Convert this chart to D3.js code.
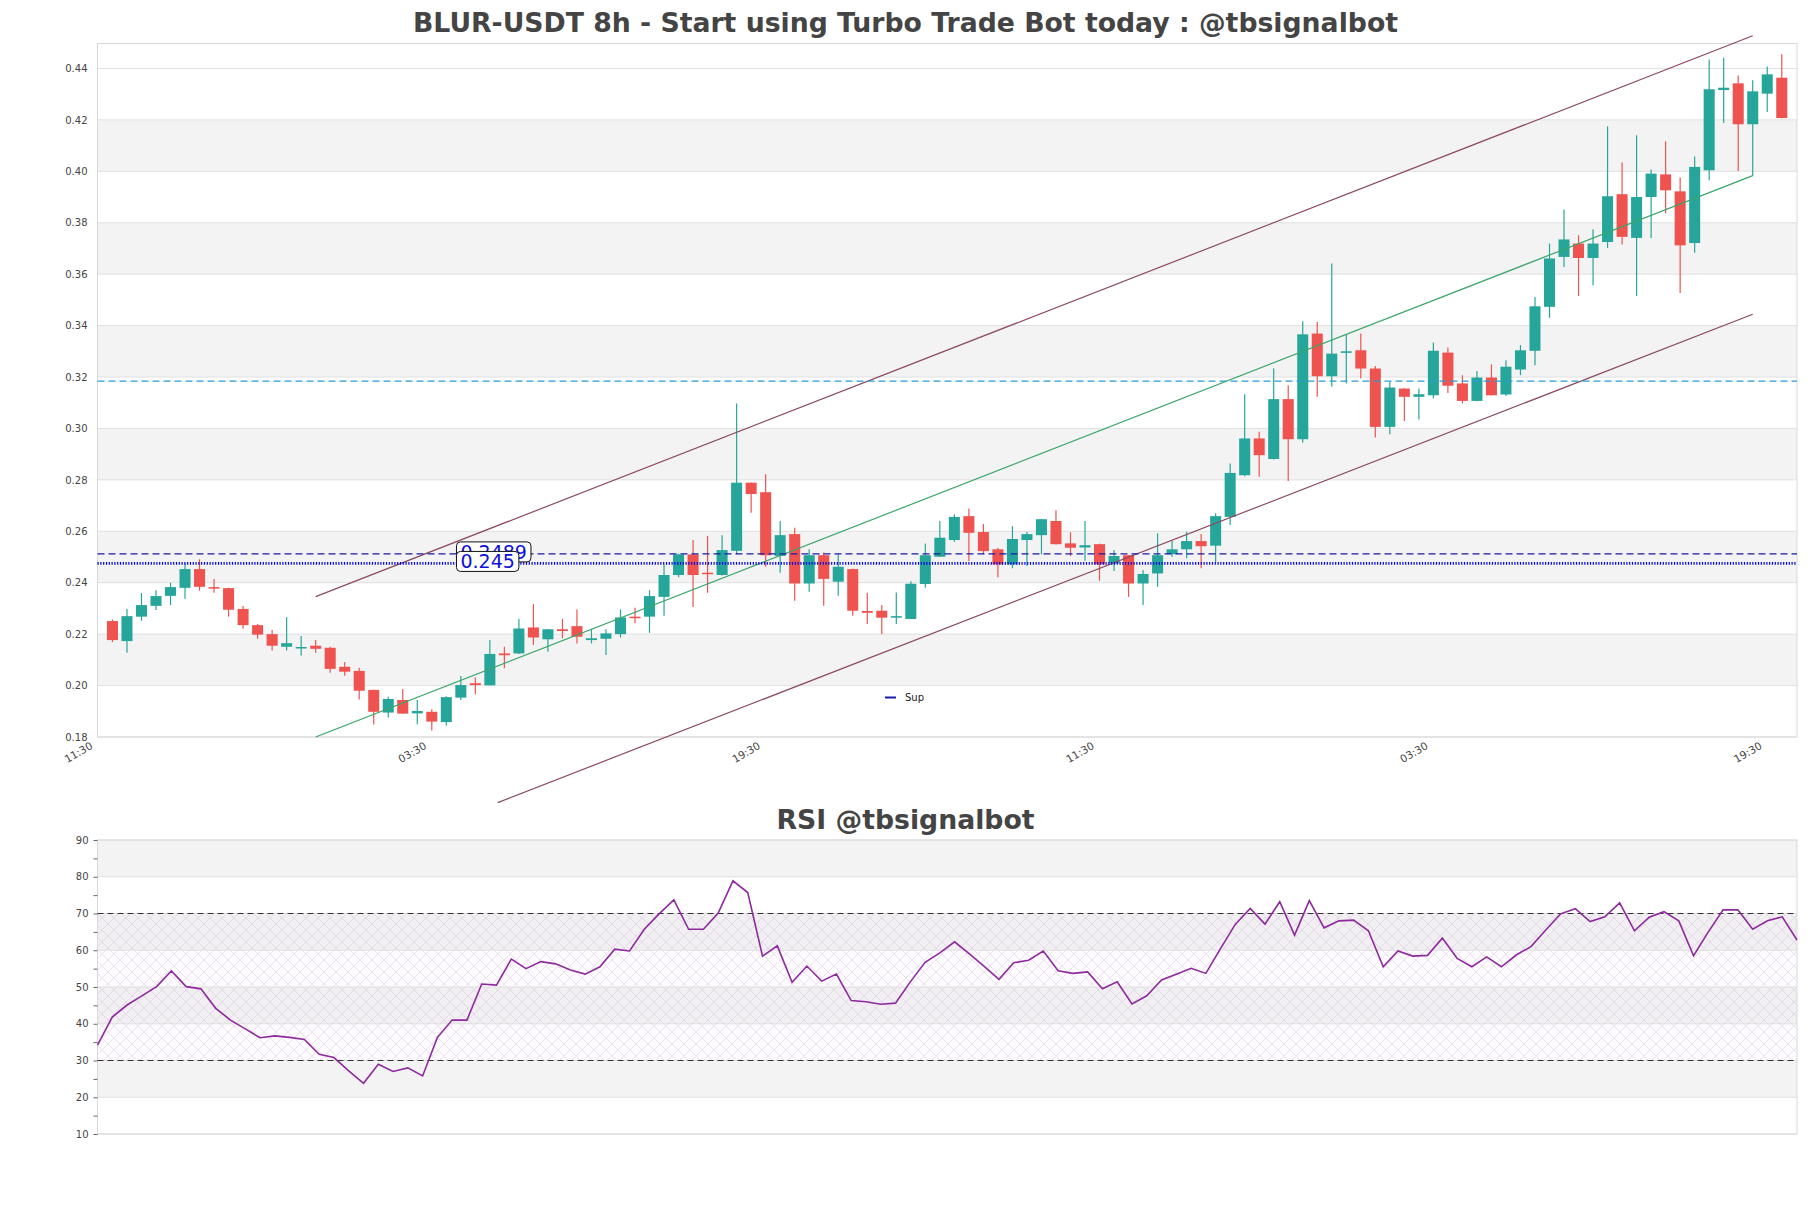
<!DOCTYPE html>
<html>
<head>
<meta charset="utf-8">
<script src="https://cdn.jsdelivr.net/npm/d3@7"></script>
<style>
  html, body { margin: 0; padding: 0; background: #fff; }
  svg { display: block; font-family: "DejaVu Sans", sans-serif; }
</style>
</head>
<body>
<div id="chart"></div>
<script>
// ---------------- DATA ----------------
const opens = [0.2251,0.2173,0.2268,0.2310,0.2349,0.2380,0.2453,0.2383,0.2379,0.2298,
0.2235,0.2200,0.2151,0.2147,0.2155,0.2147,0.2073,0.2057,0.1983,0.1895,
0.1944,0.1892,0.1898,0.1858,0.1953,0.2009,0.2001,0.2125,0.2125,0.2226,
0.2180,0.2219,0.2231,0.2177,0.2182,0.2200,0.2268,0.2268,0.2345,0.2430,
0.2510,0.2439,0.2430,0.2524,0.2789,0.2752,0.2504,0.2589,0.2397,0.2507,
0.2404,0.2453,0.2290,0.2291,0.2264,0.2259,0.2395,0.2501,0.2566,0.2659,
0.2597,0.2530,0.2471,0.2566,0.2585,0.2640,0.2553,0.2537,0.2550,0.2475,
0.2507,0.2397,0.2436,0.2511,0.2530,0.2562,0.2544,0.2656,0.2818,0.2961,
0.2881,0.3114,0.2958,0.3369,0.3203,0.3294,0.3304,0.3233,0.3006,0.3155,
0.3123,0.3129,0.3295,0.3175,0.3107,0.3198,0.3132,0.3229,0.3302,0.3473,
0.3667,0.3719,0.3663,0.3725,0.3911,0.3741,0.3900,0.3988,0.3922,0.3721,
0.4004,0.4316,0.4342,0.4183,0.4302,0.4364];
const highs = [0.2257,0.2298,0.2360,0.2371,0.2400,0.2475,0.2491,0.2414,0.2381,0.2309,
0.2239,0.2216,0.2266,0.2193,0.2177,0.2151,0.2092,0.2069,0.1985,0.1957,
0.1987,0.1944,0.1908,0.1958,0.2037,0.2031,0.2177,0.2151,0.2259,0.2317,
0.2220,0.2259,0.2296,0.2219,0.2219,0.2296,0.2303,0.2371,0.2471,0.2513,
0.2566,0.2582,0.2585,0.3097,0.2790,0.2822,0.2640,0.2614,0.2530,0.2518,
0.2511,0.2455,0.2361,0.2313,0.2362,0.2406,0.2553,0.2640,0.2666,0.2689,
0.2628,0.2536,0.2620,0.2598,0.2648,0.2682,0.2596,0.2640,0.2552,0.2527,
0.2508,0.2449,0.2592,0.2562,0.2598,0.2589,0.2670,0.2864,0.3133,0.2987,
0.3233,0.3168,0.3417,0.3414,0.3641,0.3365,0.3369,0.3243,0.3181,0.3156,
0.3155,0.3334,0.3315,0.3207,0.3223,0.3249,0.3265,0.3324,0.3511,0.3719,
0.3851,0.3751,0.3775,0.4175,0.4034,0.4140,0.4007,0.4117,0.3976,0.4058,
0.4435,0.4442,0.4373,0.4354,0.4408,0.4455];
const lows = [0.2169,0.2128,0.2252,0.2294,0.2313,0.2338,0.2369,0.2361,0.2268,0.2221,
0.2182,0.2136,0.2136,0.2116,0.2128,0.2050,0.2038,0.1946,0.1849,0.1876,
0.1889,0.1850,0.1825,0.1845,0.1944,0.1966,0.2000,0.2067,0.2123,0.2158,
0.2132,0.2184,0.2164,0.2164,0.2119,0.2187,0.2242,0.2205,0.2272,0.2421,
0.2306,0.2361,0.2428,0.2511,0.2672,0.2462,0.2439,0.2330,0.2365,0.2310,
0.2349,0.2272,0.2239,0.2200,0.2239,0.2258,0.2380,0.2500,0.2559,0.2484,
0.2511,0.2421,0.2456,0.2465,0.2510,0.2549,0.2504,0.2485,0.2408,0.2446,
0.2345,0.2313,0.2384,0.2501,0.2495,0.2456,0.2481,0.2624,0.2814,0.2812,
0.2879,0.2796,0.2944,0.3123,0.3162,0.3175,0.3194,0.2965,0.2977,0.3029,
0.3035,0.3117,0.3138,0.3097,0.3106,0.3128,0.3126,0.3207,0.3246,0.3430,
0.3628,0.3515,0.3557,0.3702,0.3715,0.3515,0.3741,0.3836,0.3527,0.3683,
0.3965,0.4188,0.4001,0.3982,0.4231,0.4206];
const closes = [0.2177,0.2270,0.2313,0.2348,0.2383,0.2453,0.2384,0.2377,0.2295,0.2235,
0.2198,0.2155,0.2165,0.2150,0.2143,0.2065,0.2054,0.1980,0.1898,0.1948,
0.1891,0.1901,0.1860,0.1955,0.2002,0.2002,0.2123,0.2118,0.2222,0.2187,
0.2219,0.2212,0.2190,0.2184,0.2203,0.2265,0.2262,0.2348,0.2430,0.2510,
0.2430,0.2433,0.2527,0.2789,0.2745,0.2507,0.2585,0.2397,0.2507,0.2415,
0.2462,0.2291,0.2283,0.2264,0.2270,0.2396,0.2507,0.2575,0.2656,0.2594,
0.2523,0.2471,0.2570,0.2589,0.2647,0.2550,0.2536,0.2546,0.2471,0.2504,
0.2397,0.2434,0.2507,0.2530,0.2562,0.2542,0.2659,0.2827,0.2961,0.2896,
0.3114,0.2958,0.3366,0.3203,0.3291,0.3300,0.3233,0.3006,0.3159,0.3123,
0.3133,0.3302,0.3166,0.3107,0.3198,0.3129,0.3240,0.3304,0.3475,0.3661,
0.3735,0.3663,0.3719,0.3903,0.3745,0.3900,0.3991,0.3926,0.3712,0.4017,
0.4319,0.4325,0.4183,0.4311,0.4377,0.4207];
const rsi = [34.2,41.8,45.1,47.6,50.1,54.4,50.1,49.5,44.2,41.0,
38.6,36.2,36.7,36.3,35.7,31.7,30.8,27.2,23.8,29.0,
27.0,28.0,25.8,36.3,41.0,41.0,50.8,50.5,57.6,55.0,
56.9,56.3,54.6,53.5,55.5,60.3,59.8,65.7,69.9,73.7,
65.7,65.7,70.1,78.9,75.7,58.4,61.2,51.3,55.7,51.6,
53.5,46.3,46.0,45.3,45.6,51.4,56.7,59.3,62.3,59.0,
55.6,52.1,56.6,57.3,59.8,54.4,53.7,54.1,49.5,51.4,
45.4,47.6,51.9,53.5,55.1,53.7,60.5,67.1,71.4,67.1,
73.2,64.1,73.5,66.1,68.0,68.2,65.3,55.5,59.8,58.4,
58.6,63.3,57.8,55.5,58.2,55.5,58.7,61.0,65.5,69.9,
71.3,67.8,69.1,72.9,65.3,69.0,70.5,68.0,58.5,65.0,
71.0,71.0,65.7,68.0,69.1,62.8];

const timeTickIndex = [-1, 22, 45, 68, 91, 114];
const timeTickLabels = ["11:30", "03:30", "19:30", "11:30", "03:30", "19:30"];
const priceTicks = [0.18,0.20,0.22,0.24,0.26,0.28,0.30,0.32,0.34,0.36,0.38,0.40,0.42,0.44];
const rsiTicks = [10,15,20,25,30,35,40,45,50,55,60,65,70,75,80,85,90];

const channelUpper = [[14, 0.2346], [113, 0.4527]];
const channelMid   = [[14, 0.1800], [113, 0.3983]];
const channelLower = [[26.54, 0.1545], [113, 0.3444]];
const resistanceLevel = 0.3184;
const supLevels = [0.2512, 0.2475];
const supLabels = ["0.2489", "0.245"];
const rsiLevels = [70, 30];

// ---------------- LAYOUT ----------------
const W = 1811, H = 1208;
const M = {left: 97.5, right: 1797, top: 43.5, bottom: 737};
const R = {top: 840, bottom: 1134};

const svg = d3.select("#chart").append("svg").attr("width", W).attr("height", H);

const x = d3.scaleLinear().domain([-1.03, 116.05]).range([M.left, M.right]);
const y = d3.scaleLinear().domain([0.18, 0.4497]).range([M.bottom, M.top]);
const xr = d3.scaleLinear().domain([0, 115]).range([M.left, M.right]);
const yr = d3.scaleLinear().domain([10, 90]).range([R.bottom, R.top]);

const defs = svg.append("defs");
const pat = defs.append("pattern").attr("id", "hatch").attr("patternUnits", "userSpaceOnUse")
  .attr("width", 12).attr("height", 12);
pat.append("path").attr("d", "M-1,-1 L13,13 M13,-1 L-1,13 M-7,5 L7,19 M5,-7 L19,7 M5,19 L19,5 M-7,7 L7,-7")
  .attr("stroke", "#c6aed3").attr("stroke-width", 0.6).attr("fill", "none");

// ---------------- TITLES ----------------
svg.append("text").attr("x", W / 2).attr("y", 32).attr("text-anchor", "middle")
  .attr("font-size", 26.7).attr("font-weight", "bold").attr("fill", "#444")
  .text("BLUR-USDT 8h - Start using Turbo Trade Bot today : @tbsignalbot");
svg.append("text").attr("x", W / 2).attr("y", 829).attr("text-anchor", "middle")
  .attr("font-size", 26.7).attr("font-weight", "bold").attr("fill", "#444")
  .text("RSI @tbsignalbot");

// ---------------- MAIN PANEL ----------------
const main = svg.append("g");
for (let i = 0; i < priceTicks.length - 1; i++) {
  if (i % 2 === 1) {
    main.append("rect").attr("x", M.left).attr("width", M.right - M.left)
      .attr("y", y(priceTicks[i + 1])).attr("height", y(priceTicks[i]) - y(priceTicks[i + 1]))
      .attr("fill", "#f3f3f3");
  }
}
main.append("g").selectAll("line").data(priceTicks).join("line")
  .attr("x1", M.left).attr("x2", M.right)
  .attr("y1", d => y(d)).attr("y2", d => y(d))
  .attr("stroke", "#e0e0e0").attr("stroke-width", 1);
main.append("rect").attr("x", M.left).attr("y", M.top).attr("width", M.right - M.left)
  .attr("height", M.bottom - M.top).attr("fill", "none").attr("stroke", "#d9d9d9").attr("stroke-width", 1);

const yAxis = main.append("g").attr("transform", `translate(${M.left},0)`)
  .call(d3.axisLeft(y).tickValues(priceTicks).tickSize(0).tickPadding(10).tickFormat(d3.format(".2f")));
yAxis.select(".domain").remove();
yAxis.selectAll("text").attr("font-size", 10).attr("fill", "#444").attr("font-family", "DejaVu Sans");

const xAxis = main.append("g").attr("transform", `translate(0,${M.bottom})`)
  .call(d3.axisBottom(x).tickValues(timeTickIndex).tickSize(0).tickFormat((d, i) => timeTickLabels[i]));
xAxis.select(".domain").remove();
xAxis.selectAll("text").attr("font-size", 10.5).attr("fill", "#444").attr("font-family", "DejaVu Sans")
  .attr("x", 0).attr("y", 0).attr("dy", 0).attr("text-anchor", "end")
  .attr("transform", "translate(-5,11) rotate(-30)");

// candles
const candles = d3.range(opens.length).map(i => ({i, o: opens[i], h: highs[i], l: lows[i], c: closes[i]}));
const bw = (x(1) - x(0)) * 0.76;
const col = d => d.c >= d.o ? "#26a69a" : "#ef5350";
const cg = main.append("g");
cg.selectAll("line").data(candles).join("line")
  .attr("x1", d => x(d.i)).attr("x2", d => x(d.i))
  .attr("y1", d => y(d.h)).attr("y2", d => y(d.l))
  .attr("stroke", col).attr("stroke-width", 1.2);
cg.selectAll("rect").data(candles).join("rect")
  .attr("x", d => x(d.i) - bw / 2).attr("width", bw)
  .attr("y", d => y(Math.max(d.o, d.c)))
  .attr("height", d => Math.max(1.5, Math.abs(y(d.o) - y(d.c))))
  .attr("fill", col);

// channel lines
const lineGen = d3.line().x(d => x(d[0])).y(d => y(d[1]));
main.append("path").datum(channelUpper).attr("d", lineGen).attr("stroke", "#8c4a60").attr("stroke-width", 1.2).attr("fill", "none");
main.append("path").datum(channelLower).attr("d", lineGen).attr("stroke", "#8c4a60").attr("stroke-width", 1.2).attr("fill", "none");
main.append("path").datum(channelMid).attr("d", lineGen).attr("stroke", "#3aa56a").attr("stroke-width", 1.2).attr("fill", "none");

// horizontal levels
main.append("line").attr("x1", M.left).attr("x2", M.right)
  .attr("y1", y(resistanceLevel)).attr("y2", y(resistanceLevel))
  .attr("stroke", "#2a9ad6").attr("stroke-width", 1.3).attr("stroke-dasharray", "7,4");
main.append("line").attr("x1", M.left).attr("x2", M.right)
  .attr("y1", y(supLevels[0])).attr("y2", y(supLevels[0]))
  .attr("stroke", "#1a1aa8").attr("stroke-width", 1.4).attr("stroke-dasharray", "7,4");
main.append("line").attr("x1", M.left).attr("x2", M.right)
  .attr("y1", y(supLevels[1])).attr("y2", y(supLevels[1]))
  .attr("stroke", "#0000e0").attr("stroke-width", 2.8).attr("stroke-dasharray", "1.2,1.6");

// level labels
supLevels.forEach((lv, k) => {
  const g = main.append("g");
  const t = g.append("text").attr("x", x(23.7) + 4).attr("y", y(lv) - 2)
    .attr("dy", "0.36em").attr("font-size", 19).attr("fill", "#1010d8").text(supLabels[k]);
  const bb = t.node().getBBox();
  g.insert("rect", "text").attr("x", bb.x - 4).attr("y", y(lv) - 2 - 10)
    .attr("width", bb.width + 8).attr("height", 20).attr("rx", 4)
    .attr("fill", "#fff").attr("stroke", "#111").attr("stroke-width", 1);
});

// legend
main.append("line").attr("x1", 885).attr("x2", 896).attr("y1", 697.5).attr("y2", 697.5)
  .attr("stroke", "#1a1aa8").attr("stroke-width", 2);
main.append("text").attr("x", 905).attr("y", 701).attr("font-size", 10).attr("fill", "#222").text("Sup");

// ---------------- RSI PANEL ----------------
const rp = svg.append("g");
const rsiBands = [10,20,30,40,50,60,70,80,90];
for (let i = 0; i < rsiBands.length - 1; i++) {
  if (i % 2 === 1) {
    rp.append("rect").attr("x", M.left).attr("width", M.right - M.left)
      .attr("y", yr(rsiBands[i + 1])).attr("height", yr(rsiBands[i]) - yr(rsiBands[i + 1]))
      .attr("fill", "#f3f3f3");
  }
}
rp.append("rect").attr("x", M.left).attr("width", M.right - M.left)
  .attr("y", yr(70)).attr("height", yr(30) - yr(70)).attr("fill", "#9b59b6").attr("fill-opacity", 0.025);
rp.append("rect").attr("x", M.left).attr("width", M.right - M.left)
  .attr("y", yr(70)).attr("height", yr(30) - yr(70)).attr("fill", "url(#hatch)").attr("opacity", 0.55);
rp.append("g").selectAll("line").data(rsiBands).join("line")
  .attr("x1", M.left).attr("x2", M.right)
  .attr("y1", d => yr(d)).attr("y2", d => yr(d))
  .attr("stroke", "#e0e0e0").attr("stroke-width", 1);
rp.append("rect").attr("x", M.left).attr("y", R.top).attr("width", M.right - M.left)
  .attr("height", R.bottom - R.top).attr("fill", "none").attr("stroke", "#d9d9d9").attr("stroke-width", 1);

const ryAxis = rp.append("g").attr("transform", `translate(${M.left},0)`)
  .call(d3.axisLeft(yr).tickValues(rsiTicks).tickSize(4).tickPadding(5)
    .tickFormat(d => d % 10 === 0 ? d : ""));
ryAxis.select(".domain").remove();
ryAxis.selectAll("line").attr("stroke", "#666");
ryAxis.selectAll("text").attr("font-size", 10).attr("fill", "#444").attr("font-family", "DejaVu Sans");

rp.selectAll(".lvl").data(rsiLevels).join("line").attr("class", "lvl")
  .attr("x1", M.left).attr("x2", M.right)
  .attr("y1", d => yr(d)).attr("y2", d => yr(d))
  .attr("stroke", "#333").attr("stroke-width", 1.2).attr("stroke-dasharray", "6,4");

rp.append("path").datum(rsi)
  .attr("d", d3.line().x((d, i) => xr(i)).y(d => yr(d)))
  .attr("fill", "none").attr("stroke", "#8e2a9e").attr("stroke-width", 1.6);
</script>
</body>
</html>
